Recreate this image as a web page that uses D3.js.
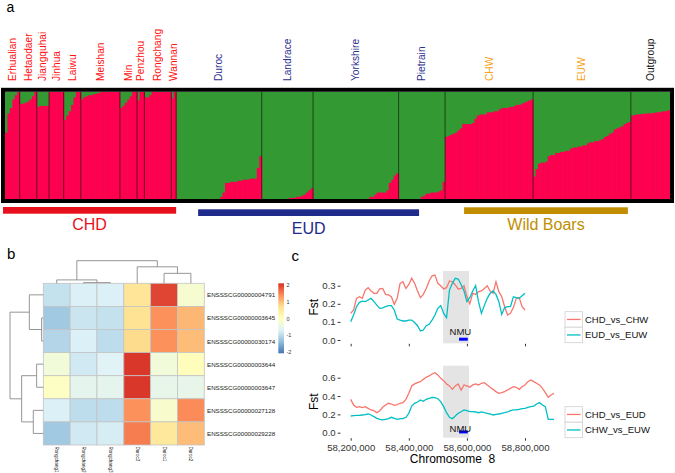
<!DOCTYPE html>
<html><head><meta charset="utf-8">
<script src="https://cdn.jsdelivr.net/npm/d3@7"></script>
<style>
body{margin:0;background:#fff}
svg{display:block;font-family:"Liberation Sans",Arial,sans-serif}
</style>
</head><body>
<svg id="fig" width="675" height="473"></svg>
<script>
// ---------------- DATA ----------------
// Panel a: admixture (K=2), red-ancestry share per individual, by breed
const breeds = ["Erhualian","Hetaodaer","Jiangquhai","Jinhua","Laiwu","Meishan","Min","Penzhou","Rongchang","Wannan",
  "Duroc","Landrace","Yorkshire","Pietrain","CHW","EUW","Outgroup"];
const breedGroup = ["CHD","CHD","CHD","CHD","CHD","CHD","CHD","CHD","CHD","CHD","EUD","EUD","EUD","EUD","WB","WB","OUT"];
const redShare = [
  [0.62,0.80,0.85,0.93,0.97,1],
  [0.89,0.89,0.90,0.91,0.93,0.96,1],
  [0.86,0.87,0.87,0.87,0.87],
  [1,1,1,1,1,1],
  [0.74,0.78,0.82,0.88,0.95,1,1],
  [0.93,0.95,0.96,0.97,0.97,0.98,0.985,0.99,1,1,1,1,1,1,1,1],
  [0.85,0.87,0.90,0.93,0.96,1,1],
  [0.92,1,1],
  [0.95,0.95,0.97,1,1,1,1,1,1,1,1],
  [0.94,1],
  [0,0,0,0,0,0,0,0,0,0,0,0,0,0,0,0,0,0,0.02,0.06,0.15,0.15,0.16,0.16,0.16,0.17,0.17,0.18,0.18,0.18,0.19,0.19,0.19,0.29,0.40],
  [0,0,0,0,0,0,0,0,0,0,0,0.01,0.01,0.01,0.02,0.02,0.03,0.04,0.06,0.08,0.10],
  [0,0,0,0,0,0,0,0,0,0,0,0,0,0,0,0,0,0,0,0,0,0,0,0.02,0.02,0.04,0.06,0.06,0.06,0.06,0.08,0.15,0.18,0.22,0.24],
  [0,0,0,0,0,0,0,0,0,0.02,0.03,0.05,0.05,0.06,0.06,0.06,0.07,0.08,0.16],
  [0.58,0.59,0.60,0.61,0.62,0.64,0.66,0.70,0.70,0.70,0.70,0.71,0.75,0.78,0.79,0.79,0.79,0.81,0.81,0.81,0.82,0.82,0.84,0.85,0.85,0.85,0.86,0.86,0.87,0.88,0.88,0.89,0.90,0.91,0.92,0.93],
  [0.21,0.28,0.33,0.34,0.34,0.35,0.40,0.41,0.41,0.43,0.43,0.44,0.44,0.45,0.45,0.47,0.48,0.48,0.49,0.49,0.50,0.50,0.52,0.53,0.53,0.54,0.54,0.55,0.56,0.58,0.59,0.61,0.62,0.65,0.66,0.67,0.68,0.70,0.71,0.72],
  [0.78,0.785,0.79,0.79,0.795,0.795,0.80,0.80,0.80,0.805,0.81,0.81,0.815,0.82,0.82,0.83]
];
const superGroups = ["CHD","EUD","Wild Boars"];

// Panel b: heatmap
const heatCols = ["Rongchang1","Rongchang2","Rongchang3","Duroc3","Duroc1","Duroc2"];
const heatRows = ["ENSSSCG00000004791","ENSSSCG00000003645","ENSSSCG00000030174","ENSSSCG00000003644",
  "ENSSSCG00000003647","ENSSSCG00000027128","ENSSSCG00000029228"];
const heatValues = [
  [-0.90,-0.70,-0.70, 0.55, 1.85,-0.20],
  [-1.20,-0.85,-0.90, 0.60, 1.30, 1.00],
  [-1.05,-0.70,-0.95, 0.70, 1.30, 0.95],
  [-0.30,-0.80,-0.65, 1.95,-0.30, 0.05],
  [-0.05,-0.55,-0.55, 1.95,-0.50,-0.50],
  [-0.70,-0.95,-0.95, 1.30,-0.15, 1.35],
  [-1.20,-0.80,-0.75, 1.45, 0.50, 0.95]
];
const legendTicks = [2,1,0,-1,-2];
// dendrograms: [left, right, height]
const colTree = [[0,[1,2,0.03],0.15],[3,[4,5,0.44],0.73],1.0];
const rowTree = [[0,[1,2,0.05],0.42],[[3,4,0.20],[5,6,0.30],0.65],1.0];

// Panel c: Fst along chromosome 8 (10 kb steps)
const fstTopNames = ["CHD_vs_CHW","EUD_vs_EUW"];
const fstBotNames = ["CHD_vs_EUD","CHW_vs_EUW"];
const posTop = d3.range(58200000, 58800001, 10000);
const posBot = d3.range(58200000, 58900001, 10000);
const chdVsChw = [0.147,0.166,0.230,0.239,0.230,0.276,0.289,0.271,0.258,0.258,0.282,0.285,0.252,0.249,0.239,0.197,0.230,0.313,0.322,0.285,
  0.307,0.341,0.313,0.271,0.234,0.252,0.285,0.326,0.355,0.359,0.313,0.300,0.282,0.289,0.326,0.322,0.304,0.282,0.285,0.300,
  0.240,0.200,0.258,0.252,0.267,0.271,0.285,0.300,0.271,0.258,0.322,0.267,0.239,0.184,0.138,0.147,0.179,0.230,0.234,0.184,0.166];
const eudVsEuw = [0.101,0.138,0.184,0.208,0.215,0.212,0.221,0.230,0.212,0.193,0.175,0.178,0.184,0.190,0.190,0.166,0.116,0.110,0.105,0.105,
  0.110,0.110,0.097,0.079,0.050,0.055,0.079,0.087,0.110,0.138,0.175,0.190,0.147,0.123,0.276,0.313,0.341,0.337,0.307,0.271,
  0.212,0.234,0.271,0.300,0.212,0.147,0.190,0.230,0.258,0.271,0.252,0.212,0.141,0.179,0.184,0.184,0.239,0.234,0.230,0.245,0.258];
const chdVsEud = [0.364,0.302,0.277,0.284,0.273,0.284,0.266,0.248,0.240,0.218,0.240,0.277,0.302,0.321,0.313,0.299,0.306,0.321,0.328,0.364,
  0.430,0.510,0.532,0.546,0.557,0.582,0.604,0.619,0.640,0.655,0.630,0.593,0.568,0.532,0.510,0.473,0.510,0.532,0.466,0.521,
  0.510,0.495,0.521,0.532,0.521,0.539,0.546,0.521,0.495,0.473,0.448,0.430,0.437,0.448,0.466,0.484,0.502,0.495,0.473,0.502,
  0.521,0.557,0.575,0.557,0.539,0.521,0.484,0.437,0.386,0.411,0.430];
const chwVsEuw = [0.182,0.186,0.189,0.189,0.193,0.197,0.204,0.193,0.175,0.157,0.146,0.139,0.146,0.153,0.168,0.157,0.146,0.153,0.153,0.168,
  0.211,0.291,0.320,0.335,0.357,0.342,0.364,0.375,0.386,0.382,0.371,0.339,0.284,0.218,0.168,0.153,0.182,0.211,0.229,0.248,
  0.240,0.229,0.229,0.226,0.218,0.226,0.218,0.211,0.204,0.193,0.200,0.204,0.211,0.218,0.226,0.240,0.248,0.248,0.255,0.262,
  0.266,0.277,0.284,0.291,0.313,0.328,0.302,0.284,0.146,0.146,0.146];
const sweepRegion = [58518000, 58607000];
const nmuGene = [58573000, 58603000];
const xTicks = [58200000,58400000,58600000,58800000];
const yTicksTop = [0,0.1,0.2,0.3];
const yTicksBot = [0,0.2,0.4,0.6];

// ---------------- DRAW ----------------
const svg = d3.select("#fig");
const RED = "#ff0050", GREEN = "#339933";
const labelColor = {CHD:"#ff1010", EUD:"#2e3192", WB:"#f7a21b", OUT:"#111"};

// ===== Panel a =====
svg.append("text").attr("x",6.5).attr("y",12).attr("font-size",14).text("a");
const indiv = [];
redShare.forEach((arr,gi)=>arr.forEach(q=>indiv.push({g:gi,q})));
const xa = d3.scaleBand().domain(d3.range(indiv.length)).range([5,670]);
const ya = d3.scaleLinear().domain([0,1]).range([199,92]);
const gA = svg.append("g");
gA.append("rect").attr("x",5).attr("y",92).attr("width",665).attr("height",107).attr("fill",GREEN);
gA.selectAll("rect.q").data(indiv).join("rect").attr("class","q")
  .attr("x",(d,i)=>xa(i)).attr("width",xa.bandwidth()+0.45)
  .attr("y",d=>ya(d.q)).attr("height",d=>ya(0)-ya(d.q)).attr("fill",RED);
// group boundaries
let start = 0; const gStart = [];
redShare.forEach(arr=>{gStart.push(start); start += arr.length;});
gStart.slice(1).forEach(s=>{
  gA.append("line").attr("x1",xa(s)).attr("x2",xa(s)).attr("y1",92).attr("y2",199)
    .attr("stroke","#000").attr("stroke-opacity",0.55).attr("stroke-width",1);
});
gA.append("rect").attr("x",3).attr("y",89.8).attr("width",669).attr("height",111.2)
  .attr("fill","none").attr("stroke","#000").attr("stroke-width",4);
// breed labels
breeds.forEach((b,i)=>{
  const cx = xa(gStart[i]) + redShare[i].length*xa.bandwidth()/2;
  svg.append("text").attr("transform",`translate(${cx},81) rotate(-90)`)
    .attr("dominant-baseline","central").attr("font-size",10.2)
    .attr("fill",labelColor[breedGroup[i]]).text(b);
});
// super-group bars
const sgColor = {"CHD":"#e8101c","EUD":"#1f2a8a","Wild Boars":"#c08e00"};
const sgSpan = {"CHD":[0,9],"EUD":[10,13],"Wild Boars":[14,15]};
const sgLayout = {"CHD":{y:207,ty:230},"EUD":{y:209.3,ty:234.3},"Wild Boars":{y:207.3,ty:230}};
superGroups.forEach(s=>{
  const [a,b] = sgSpan[s];
  let x0 = xa(gStart[a]), x1 = xa(gStart[b]) + redShare[b].length*xa.bandwidth();
  if (s==="CHD") x0 = 3;
  if (s==="EUD") { x0 += 22; x1 -= 26; }
  if (s==="Wild Boars") { x0 += 19; x1 -= 3; }
  svg.append("rect").attr("x",x0).attr("y",sgLayout[s].y).attr("width",x1-x0).attr("height",6.7).attr("fill",sgColor[s]);
  svg.append("text").attr("x",(x0+x1)/2).attr("y",sgLayout[s].ty).attr("text-anchor","middle")
    .attr("font-size",16).attr("fill",sgColor[s]).text(s);
});

// ===== Panel b =====
svg.append("text").attr("x",7).attr("y",259.3).attr("font-size",15).text("b");
const xb = d3.scaleBand().domain(heatCols).range([43.3,204.3]);
const yb = d3.scaleBand().domain(heatRows).range([283.3,445]);
const heatPalette = ["#4575B4","#91BFDB","#E0F3F8","#FFFFBF","#FEE090","#FC8D59","#D73027"];
const color = d3.scaleLinear().domain([-2,-4/3,-2/3,0,2/3,4/3,2]).range(heatPalette).clamp(true);
const gB = svg.append("g");
heatValues.forEach((row,ri)=>row.forEach((v,ci)=>{
  gB.append("rect").attr("x",xb(heatCols[ci])).attr("y",yb(heatRows[ri]))
    .attr("width",xb.bandwidth()).attr("height",yb.bandwidth())
    .attr("fill",color(v)).attr("stroke","#c4c4c4").attr("stroke-width",0.8);
}));
heatRows.forEach(r=>{
  gB.append("text").attr("x",207).attr("y",yb(r)+yb.bandwidth()/2).attr("dominant-baseline","central")
    .attr("font-size",6.2).attr("fill","#222").text(r);
});
heatCols.forEach(c=>{
  gB.append("text").attr("transform",`translate(${xb(c)+xb.bandwidth()/2},446.5) rotate(90)`)
    .attr("dominant-baseline","central").attr("font-size",4.6).attr("fill","#222").text(c);
});
// dendrograms
const colH = d3.scaleLinear().domain([0,1]).range([283.3,260.7]);
const rowH = d3.scaleLinear().domain([0,1]).range([43.3,10]);
function drawCol(node){
  if (typeof node === "number") return {p:xb(heatCols[node])+xb.bandwidth()/2, h:0};
  const a = drawCol(node[0]), b = drawCol(node[1]), h = node[2];
  gB.append("path").attr("d",`M${a.p},${colH(a.h)}V${colH(h)}H${b.p}V${colH(b.h)}`)
    .attr("fill","none").attr("stroke","#8a8a8a").attr("stroke-width",0.9);
  return {p:(a.p+b.p)/2, h};
}
function drawRow(node){
  if (typeof node === "number") return {p:yb(heatRows[node])+yb.bandwidth()/2, h:0};
  const a = drawRow(node[0]), b = drawRow(node[1]), h = node[2];
  gB.append("path").attr("d",`M${rowH(a.h)},${a.p}H${rowH(h)}V${b.p}H${rowH(b.h)}`)
    .attr("fill","none").attr("stroke","#8a8a8a").attr("stroke-width",0.9);
  return {p:(a.p+b.p)/2, h};
}
drawCol(colTree); drawRow(rowTree);
// colour legend
const defs = svg.append("defs");
const grad = defs.append("linearGradient").attr("id","hg").attr("x1",0).attr("x2",0).attr("y1",1).attr("y2",0);
heatPalette.forEach((c,i)=>grad.append("stop").attr("offset",i/(heatPalette.length-1)).attr("stop-color",c));
svg.append("rect").attr("x",278.3).attr("y",283.3).attr("width",5.7).attr("height",70).attr("fill","url(#hg)");
const yLeg = d3.scaleLinear().domain([-2,2]).range([352.3,285]);
legendTicks.forEach(t=>{
  svg.append("text").attr("x",286.5).attr("y",yLeg(t)).attr("dominant-baseline","central")
    .attr("font-size",5.5).attr("fill","#333").text(t);
});

// ===== Panel c =====
svg.append("text").attr("x",291.5).attr("y",260.7).attr("font-size",15).text("c");
const xc = d3.scaleLinear().domain([58200000,58800000]).range([350.7,525]);
const FST_RED = "#F8766D", FST_TEAL = "#00BFC4";
function fstPanel(cfg){
  const g = svg.append("g");
  const y = d3.scaleLinear().domain(cfg.ydom).range(cfg.yrange);
  g.append("rect").attr("x",xc(sweepRegion[0])).attr("y",cfg.py0).attr("width",xc(sweepRegion[1])-xc(sweepRegion[0]))
    .attr("height",cfg.py1-cfg.py0).attr("fill","#e4e4e4");
  const line = d3.line().x((d,i)=>xc(cfg.pos[i])).y(d=>y(d));
  g.append("path").attr("d",line(cfg.a)).attr("fill","none").attr("stroke",FST_RED).attr("stroke-width",1.3);
  g.append("path").attr("d",line(cfg.b)).attr("fill","none").attr("stroke",FST_TEAL).attr("stroke-width",1.3);
  g.append("rect").attr("x",xc(nmuGene[0])).attr("width",xc(nmuGene[1])-xc(nmuGene[0]))
    .attr("y",y(0)-2.3).attr("height",3).attr("fill","#0000ff");
  g.append("text").attr("x",(xc(nmuGene[0])+xc(nmuGene[1]))/2-3).attr("y",y(0)+cfg.nmuDy)
    .attr("text-anchor","middle").attr("font-size",9.5).attr("fill","#111").text("NMU");
  // y axis
  const ya = g.append("g").attr("transform",`translate(340.5,0)`)
    .call(d3.axisLeft(y).tickValues(cfg.yticks).tickSize(2.8).tickPadding(2).tickFormat(d3.format(".1f")));
  ya.select(".domain").remove();
  ya.selectAll("text").attr("font-size",9.6).attr("fill","#333").attr("font-family","Liberation Sans, Arial, sans-serif");
  ya.selectAll("line").attr("stroke","#333");
  // x axis
  const xaG = g.append("g").attr("transform",`translate(0,${cfg.py1+0.5})`)
    .call(d3.axisBottom(xc).tickValues(xTicks).tickSize(2.5).tickPadding(3)
      .tickFormat(cfg.xlabels ? d3.format(",") : ""));
  xaG.select(".domain").remove();
  xaG.selectAll("text").attr("font-size",9.6).attr("fill","#333").attr("font-family","Liberation Sans, Arial, sans-serif");
  xaG.selectAll("line").attr("stroke","#333");
  // y title
  g.append("text").attr("transform",`translate(314,${(cfg.py0+cfg.py1)/2}) rotate(-90)`)
    .attr("text-anchor","middle").attr("dominant-baseline","central").attr("font-size",12).text("Fst");
  // legend
  cfg.names.forEach((n,i)=>{
    const ky = cfg.ly + i*15.5;
    g.append("rect").attr("x",565).attr("y",ky).attr("width",17.5).attr("height",15.5)
      .attr("fill","#fff").attr("stroke","#cfcfcf").attr("stroke-width",0.8);
    g.append("line").attr("x1",567).attr("x2",580.5).attr("y1",ky+7.75).attr("y2",ky+7.75)
      .attr("stroke",i===0?FST_RED:FST_TEAL).attr("stroke-width",1.3);
    g.append("text").attr("x",585).attr("y",ky+7.75).attr("dominant-baseline","central")
      .attr("font-size",9.5).attr("fill","#111").text(n);
  });
}
fstPanel({pos:posTop,a:chdVsChw,b:eudVsEuw,ydom:[0,0.3],yrange:[340,285.7],py0:271,py1:343.3,
  yticks:yTicksTop,xlabels:false,names:fstTopNames,ly:311.7,nmuDy:-5});
fstPanel({pos:posBot,a:chdVsEud,b:chwVsEuw,ydom:[0,0.6],yrange:[432.7,377.7],py0:365.7,py1:437.7,
  yticks:yTicksBot,xlabels:true,names:fstBotNames,ly:406.7,nmuDy:-0.6});
svg.append("text").attr("x",452.5).attr("y",463).attr("text-anchor","middle").attr("font-size",12)
  .style("white-space","pre").text("Chromosome  8");
</script>
</body></html>
